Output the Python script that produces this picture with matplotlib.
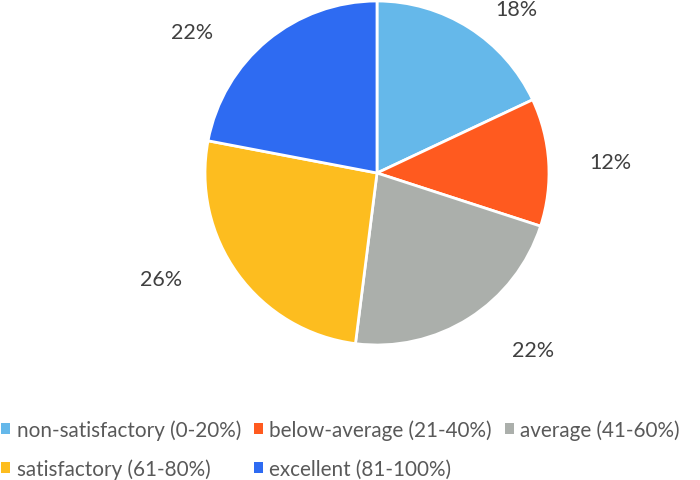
import matplotlib.pyplot as plt
from matplotlib.patches import Patch
import numpy as np

plt.rcParams['font.family'] = ['Lato', 'DejaVu Sans']

categories = ['non-satisfactory (0-20%)', 'below-average (21-40%)', 'average (41-60%)',
              'satisfactory (61-80%)', 'excellent (81-100%)']
shares = [18, 12, 22, 26, 22]
colors = ['#65B8EA', '#FF5A1F', '#ABAFAB', '#FDBD1F', '#2E6BF2']
# label radius / angle nudge per slice (excel "best fit" placement)
lab_r = [1.25, 1.36, 1.37, 1.40, 1.35]
lab_shift = [-8, -1, 9, -10, 13]

fig = plt.figure(figsize=(7, 4.81), dpi=100)
ax = fig.add_axes([205 / 700, 135 / 481, 344 / 700, 344 / 481])

wedges, _ = ax.pie(shares, colors=colors, startangle=90, counterclock=False,
                   wedgeprops=dict(edgecolor='white', linewidth=2))
ax.set_xlim(-1, 1)
ax.set_ylim(-1, 1)
ax.set_aspect('equal')

total = sum(shares)
for w, v, r, s in zip(wedges, shares, lab_r, lab_shift):
    mid = np.deg2rad((w.theta1 + w.theta2) / 2 + s)
    ax.text(r * np.cos(mid), r * np.sin(mid), f'{round(100 * v / total)}%',
            ha='center', va='center', fontsize=15.5, color='#404040', clip_on=False)

# legend filled row by row like excel
handles = [Patch(facecolor=c, edgecolor='none') for c in colors]
order = [0, 3, 1, 4, 2]
leg = fig.legend([handles[i] for i in order], [categories[i] for i in order],
                 ncol=3, loc='lower left', bbox_to_anchor=(-0.025, -0.037),
                 frameon=False, fontsize=14.9, handlelength=0.45, handleheight=0.45,
                 handletextpad=0.3, columnspacing=0.62, labelspacing=0.9)
for t in leg.get_texts():
    t.set_color('#595959')

fig.savefig('out.png')
